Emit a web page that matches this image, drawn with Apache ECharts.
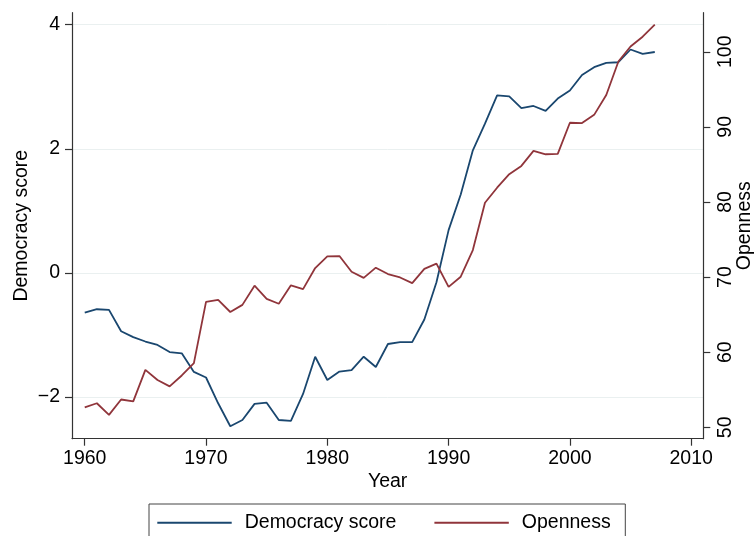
<!DOCTYPE html>
<html>
<head>
<meta charset="utf-8">
<script src="https://cdn.jsdelivr.net/npm/echarts@6/dist/echarts.min.js"></script>
<style>
html,body{margin:0;padding:0;background:#fff;}
#chart{width:754px;height:536px;}
</style>
</head>
<body>
<div id="chart"></div>
<script>
// ---- data ----
var years = [];
for (var y = 1960; y <= 2007; y++) years.push(y);

var democracy = [
  -0.64, -0.585, -0.595, -0.94, -1.035, -1.105, -1.16, -1.275, -1.295, -1.595,
  -1.685, -2.10, -2.47, -2.37, -2.11, -2.09, -2.37, -2.385, -1.95, -1.35,
  -1.725, -1.59, -1.565, -1.35, -1.515, -1.145, -1.115, -1.115, -0.75, -0.15,
  0.69, 1.265, 1.975, 2.405, 2.86, 2.845, 2.655, 2.69, 2.61, 2.81,
  2.94, 3.19, 3.315, 3.385, 3.395, 3.60, 3.53, 3.56
];

var openness = [
  52.65, 53.2, 51.65, 53.7, 53.45, 57.65, 56.3, 55.45, 56.9, 58.55,
  66.7, 66.95, 65.35, 66.3, 68.85, 67.1, 66.45, 68.9, 68.4, 71.2,
  72.75, 72.8, 70.7, 69.9, 71.25, 70.4, 69.95, 69.2, 71.1, 71.8,
  68.7, 70.05, 73.6, 79.9, 81.9, 83.7, 84.8, 86.8, 86.35, 86.4,
  90.55, 90.5, 91.6, 94.25, 98.7, 100.7, 102.0, 103.6
];

var xTicks = [1960, 1970, 1980, 1990, 2000, 2010];
var leftTicks = [-2, 0, 2, 4];
var rightTicks = [50, 60, 70, 80, 90, 100];

var seriesNames = ['Democracy score', 'Openness'];

// ---- chart ----
function pairs(xs, vs) { return xs.map(function (x, i) { return [x, vs[i]]; }); }

var FONT = 'Liberation Sans, Arial, Helvetica, sans-serif';
var FS = 19.5;
var AX = '#333';

var chart = echarts.init(document.getElementById('chart'), null, {renderer: 'canvas'});
chart.setOption({
  backgroundColor: '#fff',
  animation: false,
  textStyle: {fontFamily: FONT},
  grid: {left: 72, right: 50.7, top: 12.7, bottom: 97.3, outerBoundsMode: 'none', containLabel: false},
  legend: {
    left: 149, top: 504,
    icon: 'rect', itemWidth: 74.4, itemHeight: 2, itemGap: 38,
    padding: [8.7, 14.6, 30, 8.3],
    borderColor: '#444', borderWidth: 1,
    textStyle: {fontSize: FS, color: '#000', fontFamily: FONT, padding: [0, 0, 0, 8], lineHeight: 20},
    data: seriesNames
  },
  xAxis: {
    type: 'value', min: 1958.95, max: 2011.0,
    name: 'Year', nameLocation: 'middle', nameGap: 33, nameMoveOverlap: false,
    nameTextStyle: {fontSize: FS, color: '#000', fontFamily: FONT},
    axisLine: {show: true, onZero: false, lineStyle: {color: AX, width: 1.2}},
    axisTick: {show: true, length: 7, customValues: xTicks, lineStyle: {color: AX, width: 1.2}},
    axisLabel: {customValues: xTicks, fontSize: FS, color: '#000', margin: 10, fontFamily: FONT,
      formatter: function (v) { return String(v); }},
    splitLine: {show: false}
  },
  yAxis: [{
    type: 'value', position: 'left', min: -2.671, max: 4.193,
    name: 'Democracy score', nameLocation: 'middle', nameGap: 40, nameMoveOverlap: false,
    nameTextStyle: {fontSize: FS, color: '#000', fontFamily: FONT},
    axisLine: {show: true, onZero: false, lineStyle: {color: AX, width: 1.2}},
    axisTick: {show: true, length: 7, customValues: leftTicks, lineStyle: {color: AX, width: 1.2}},
    axisLabel: {customValues: leftTicks, fontSize: FS, color: '#000', margin: 12, fontFamily: FONT,
      formatter: function (v) { return v < 0 ? '\u2212' + Math.abs(v) : String(v); }},
    splitLine: {show: true, lineStyle: {color: '#eaf0f0', width: 1}}
  }, {
    type: 'value', position: 'right', min: 48.48, max: 105.2,
    name: 'Openness', nameLocation: 'middle', nameGap: 31, nameRotate: 90, nameMoveOverlap: false,
    nameTextStyle: {fontSize: FS, color: '#000', fontFamily: FONT},
    axisLine: {show: true, onZero: false, lineStyle: {color: AX, width: 1.2}},
    axisTick: {show: true, length: 7, customValues: rightTicks, lineStyle: {color: AX, width: 1.2}},
    axisLabel: {customValues: rightTicks, fontSize: FS, color: '#000', margin: 12, rotate: 90, fontFamily: FONT,
      formatter: function (v) { return String(v); }},
    splitLine: {show: false}
  }],
  series: [{
    name: seriesNames[0], type: 'line', yAxisIndex: 0, showSymbol: false,
    data: pairs(years, democracy),
    lineStyle: {color: '#1a476f', width: 1.8}, itemStyle: {color: '#1a476f'}
  }, {
    name: seriesNames[1], type: 'line', yAxisIndex: 1, showSymbol: false,
    data: pairs(years, openness),
    lineStyle: {color: '#90353b', width: 1.8}, itemStyle: {color: '#90353b'}
  }]
});
</script>
</body>
</html>
